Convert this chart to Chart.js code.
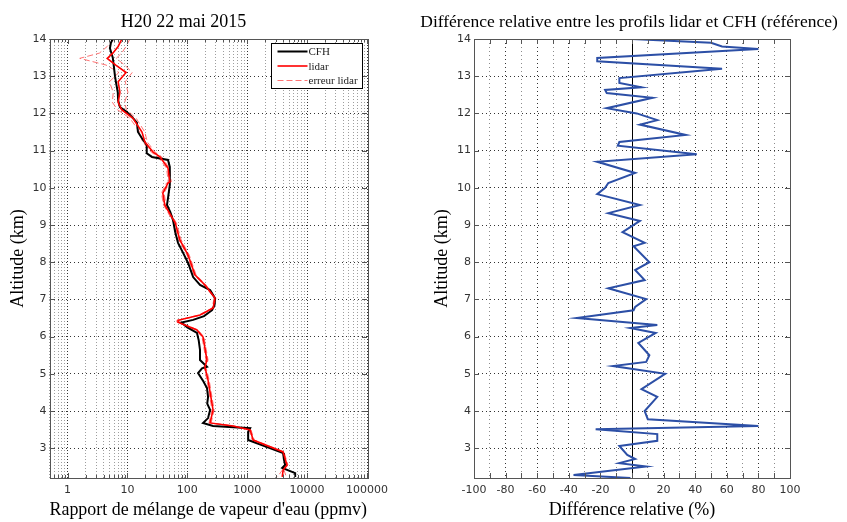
<!DOCTYPE html>
<html>
<head>
<meta charset="utf-8">
<script src="https://cdn.jsdelivr.net/npm/chart.js@4.4.1/dist/chart.umd.min.js"></script>
<style>
  html, body { margin: 0; padding: 0; background: #fff; }
  #wrap { position: relative; width: 847px; height: 522px; overflow: hidden; }
  .box { position: absolute; top: 0; height: 522px; }
</style>
</head>
<body>
<div id="wrap">
  <div class="box" style="left:0;width:420px"><canvas id="profil" width="420" height="522"></canvas></div>
  <div class="box" style="left:400px;width:447px"><canvas id="diff" width="447" height="522"></canvas></div>
</div>
<script>
// ---- data ----
const altTicks = [3, 4, 5, 6, 7, 8, 9, 10, 11, 12, 13, 14];
const decades = [1, 10, 100, 1000, 10000, 100000];
const decadeLabels = ["1", "10", "100", "1000", "10000", "100000"];
const diffTicks = [-100, -90, -80, -70, -60, -50, -40, -30, -20, -10, 0, 10, 20, 30, 40, 50, 60, 70, 80, 90, 100];
const diffTickLabels = ["-100", "", "-80", "", "-60", "", "-40", "", "-20", "", "0", "", "20", "", "40", "", "60", "", "80", "", "100"];

// CFH (km, ppmv)
const cfhAlt = [14.0, 13.9, 13.75, 13.5, 13.3, 13.0, 12.8, 12.57, 12.35, 12.17, 12.04, 11.9, 11.75, 11.5, 11.3, 11.15, 10.93, 10.83, 10.75, 10.56, 10.3, 10.08, 9.72, 9.54, 9.35, 9.13, 8.8, 8.52, 8.25, 7.98, 7.6, 7.39, 7.25, 7.03, 6.85, 6.71, 6.55, 6.45, 6.38, 6.25, 6.1, 5.9, 5.64, 5.37, 5.19, 5.15, 5.02, 4.8, 4.62, 4.38, 4.2, 4.03, 3.81, 3.68, 3.6, 3.54, 3.44, 3.22, 3.03, 2.87, 2.7, 2.55, 2.47, 2.33, 2.23];
const cfhVal = [5.7, 5.3, 5.1, 5.7, 5.9, 6.2, 6.5, 6.9, 7.0, 7.5, 9.8, 12, 14.4, 15.0, 18, 21, 21, 25.7, 47.6, 51, 51, 51, 47.6, 45.8, 52, 57.7, 63, 70, 85, 103, 125, 163, 240, 290, 285, 259, 190, 125, 80, 100, 145, 155, 163, 163, 213, 176, 151, 185, 213, 222, 215, 240, 222, 183, 269, 1120, 1037, 1037, 2150, 3980, 4100, 4300, 3840, 6320, 6320];

// lidar (km, ppmv) with lower / upper error bounds
const lidarAlt = [14.0, 13.8, 13.62, 13.48, 13.3, 13.1, 12.85, 12.57, 12.3, 12.1, 11.87, 11.5, 11.23, 10.96, 10.83, 10.53, 10.16, 10.13, 9.86, 9.54, 9.05, 8.6, 8.19, 7.66, 7.39, 7.04, 6.77, 6.58, 6.44, 6.39, 6.18, 5.99, 5.37, 5.18, 4.83, 4.03, 3.68, 3.6, 3.49, 3.22, 2.9, 2.55, 2.41, 2.23];
const lidarVal = [8.1, 7.0, 5.7, 4.6, 6.4, 9.5, 7.0, 7.5, 7.0, 8.0, 12.4, 17.5, 19.6, 26.8, 35, 47.6, 51, 47.6, 39, 42, 63, 75, 103, 134, 197, 290, 270, 163, 70, 70, 145, 183, 213, 197, 222, 269, 240, 580, 1120, 1260, 3980, 4620, 3980, 3840];
const lidarLow = [6.0, 4.6, 3.4, 1.6, 4.4, 7.2, 5.0, 5.8, 5.6, 6.8, 11, 16, 18, 25, 32.5, 45, 48, 45, 37, 40, 60, 72, 99, 129, 190, 280, 260, 157, 67, 67, 140, 176, 205, 190, 213, 258, 230, 560, 1080, 1210, 3850, 4470, 3850, 3200];
const lidarHigh = [11, 9.5, 8.0, 6.5, 9.0, 12, 9.2, 10.2, 9.0, 9.6, 14, 19.5, 21.5, 29, 37.5, 50, 54, 50, 41, 44, 66, 79, 108, 140, 205, 300, 280, 170, 73, 73, 151, 190, 222, 205, 232, 280, 250, 600, 1160, 1310, 4120, 4780, 4120, 4500];

// relative difference lidar vs CFH (km, %)
const diffAlt = [14.0, 13.9, 13.8, 13.73, 13.49, 13.4, 13.2, 12.95, 12.82, 12.7, 12.63, 12.55, 12.42, 12.14, 12.0, 11.82, 11.7, 11.42, 11.23, 11.13, 10.9, 10.7, 10.4, 10.13, 10.0, 9.83, 9.54, 9.32, 9.11, 8.81, 8.52, 8.43, 8.0, 7.79, 7.52, 7.3, 7.01, 6.8, 6.71, 6.5, 6.31, 6.23, 6.1, 5.83, 5.5, 5.32, 5.21, 5.0, 4.59, 4.38, 4.0, 3.78, 3.6, 3.51, 3.38, 3.2, 3.06, 2.82, 2.71, 2.6, 2.51, 2.28, 2.2];
const diffVal = [0, 50, 57, 80, -22, -22, 57, -8, -8, 6, -17, -16, 13, -16, 3, 16, 5, 34, -8, -9, 41, -22, 2, -15, -17, -22, 5, -15, 5, -6, 8, 1, 11, 2, 8, -15, 9, 2, 1, -35, 16, -1, 15, 4, 11, 9, -12, 21, 6, 16, 8, 10, 80, -23, 16, 16, -8, -3, 2, -8, 9, -37, -1];

const serif = "'Liberation Serif', serif";
const sans = "'DejaVu Sans', sans-serif";

const pts = (ys, xs) => ys.map((y, i) => ({ x: xs[i], y }));

// minor grid positions of the log axis (1..9 in every decade)
const logGrid = [];
[0.1].concat(decades).forEach((d) => {
  for (let m = 1; m <= 9; m++) {
    const v = +(m * d).toPrecision(3);
    if (v >= 0.5 && v <= 100000) logGrid.push(v);
  }
});
const isDecade = (v) => decades.indexOf(v) !== -1;

// box around the plot with small inner ticks
const frame = {
  id: "frame",
  afterDatasetsDraw(chart) {
    const { ctx, chartArea: a, scales } = chart;
    ctx.save();
    ctx.strokeStyle = "#555";
    ctx.lineWidth = 1;
    ctx.beginPath();
    scales.x.ticks.forEach((t) => {
      const px = Math.round(scales.x.getPixelForValue(t.value)) + 0.5;
      const len = t.minor ? 3 : 5;
      ctx.moveTo(px, a.bottom); ctx.lineTo(px, a.bottom - len);
      ctx.moveTo(px, a.top); ctx.lineTo(px, a.top + len);
    });
    scales.y.ticks.forEach((t) => {
      const py = Math.round(scales.y.getPixelForValue(t.value)) + 0.5;
      ctx.moveTo(a.left, py); ctx.lineTo(a.left + 5, py);
      ctx.moveTo(a.right, py); ctx.lineTo(a.right - 5, py);
    });
    ctx.stroke();
    ctx.strokeRect(Math.round(a.left) + 0.5, Math.round(a.top) + 0.5,
      Math.round(a.right - a.left), Math.round(a.bottom - a.top));
    ctx.restore();
  },
};

// legend drawn inside the plot, top right
const boxLegend = {
  id: "boxLegend",
  afterDraw(chart) {
    const { ctx, chartArea: a } = chart;
    const items = chart.data.datasets.filter((d) => d.label);
    const w = 91, h = 45;
    const x0 = Math.round(a.right - 5 - w) + 0.5, y0 = Math.round(a.top + 4) + 0.5;
    ctx.save();
    ctx.fillStyle = "#fff";
    ctx.fillRect(x0, y0, w, h);
    ctx.strokeStyle = "#000";
    ctx.lineWidth = 1;
    ctx.strokeRect(x0, y0, w, h);
    ctx.font = "11px " + serif;
    ctx.textBaseline = "middle";
    items.forEach((d, i) => {
      const y = y0 + 8 + i * 14.5;
      ctx.beginPath();
      ctx.strokeStyle = d.borderColor;
      ctx.lineWidth = d.borderWidth;
      ctx.setLineDash(d.borderDash || []);
      ctx.moveTo(x0 + 6, y);
      ctx.lineTo(x0 + 36, y);
      ctx.stroke();
      ctx.setLineDash([]);
      ctx.fillStyle = "#222";
      ctx.fillText(d.label, x0 + 37, y + 1);
    });
    ctx.restore();
  },
};

// long title of the right panel, drawn without the width squeeze of the title box
const wideTitle = {
  id: "wideTitle",
  afterDraw(chart, args, opts) {
    const { ctx } = chart;
    ctx.save();
    ctx.font = opts.size + "px " + serif;
    ctx.fillStyle = "#000";
    ctx.textAlign = "center";
    ctx.textBaseline = "middle";
    ctx.fillText(opts.text, opts.x, opts.y);
    ctx.restore();
  },
};

const tickFont = { family: sans, size: 11 };
const titleFont = { family: serif, size: 18, weight: "normal" };
const majorGrid = "rgba(0,0,0,0.8)";
const minorGrid = "rgba(0,0,0,0.38)";

const yScale = (width, titlePad) => ({
  type: "linear",
  min: 2.2,
  max: 14,
  afterBuildTicks: (s) => { s.ticks = altTicks.map((v) => ({ value: v })); },
  afterFit: (s) => { s.width = width; },
  ticks: { font: tickFont, color: "#333", padding: 3, callback: (v) => String(v) },
  grid: { color: majorGrid, drawTicks: false },
  border: { display: false, dash: [1, 3] },
  title: { display: true, text: "Altitude (km)", font: titleFont, color: "#000", padding: { top: titlePad, bottom: 0 } },
});

new Chart(document.getElementById("profil"), {
  type: "scatter",
  data: {
    datasets: [
      { label: "CFH", data: pts(cfhAlt, cfhVal), borderColor: "#000", borderWidth: 2, order: 1 },
      { label: "lidar", data: pts(lidarAlt, lidarVal), borderColor: "#ff0000", borderWidth: 1.6, order: 0 },
      { label: "erreur lidar", data: pts(lidarAlt, lidarLow), borderColor: "rgba(255,90,90,0.85)", borderWidth: 1, borderDash: [6, 3], order: 2 },
      { label: "", data: pts(lidarAlt, lidarHigh), borderColor: "rgba(255,90,90,0.85)", borderWidth: 1, borderDash: [6, 3], order: 2 },
    ].map((d) => Object.assign(d, { showLine: true, pointRadius: 0, tension: 0, fill: false })),
  },
  options: {
    responsive: false,
    animation: false,
    layout: { padding: { left: 0, right: 53, top: 0, bottom: 0 } },
    plugins: {
      legend: { display: false },
      tooltip: { enabled: false },
      title: { display: true, text: "H20 22 mai 2015", font: titleFont, color: "#000", padding: { top: 11, bottom: 6.4 } },
    },
    scales: {
      x: {
        type: "logarithmic",
        min: 0.5,
        max: 100000,
        afterBuildTicks: (s) => { s.ticks = logGrid.map((v) => ({ value: v, minor: !isDecade(v) })); },
        afterFit: (s) => { s.height = 44; },
        ticks: {
          autoSkip: false, maxRotation: 0, minRotation: 0, padding: 6, font: tickFont, color: "#333",
          callback: (v) => (isDecade(v) ? decadeLabels[decades.indexOf(v)] : ""),
        },
        grid: { color: (c) => (c.tick && isDecade(c.tick.value) ? majorGrid : minorGrid), drawTicks: false },
        border: { display: false, dash: [1, 2] },
        title: { display: true, text: "Rapport de mélange de vapeur d'eau (ppmv)", font: titleFont, color: "#000", padding: { top: 0, bottom: 1 } },
      },
      y: yScale(49.5, 7),
    },
  },
  plugins: [frame, boxLegend],
});

new Chart(document.getElementById("diff"), {
  type: "scatter",
  data: {
    datasets: [
      { label: "", data: pts(diffAlt, diffVal), borderColor: "#2c4fa6", borderWidth: 2, showLine: true, pointRadius: 0, tension: 0 },
    ],
  },
  options: {
    responsive: false,
    animation: false,
    layout: { padding: { left: 13, right: 57, top: 39, bottom: 0 } },
    plugins: {
      legend: { display: false },
      tooltip: { enabled: false },
      title: { display: false },
      wideTitle: { text: "Différence relative entre les profils lidar et CFH (référence)", x: 229, y: 22, size: 17.5 },
    },
    scales: {
      x: {
        type: "linear",
        min: -100,
        max: 100,
        afterBuildTicks: (s) => { s.ticks = diffTicks.map((v) => ({ value: v })); },
        afterFit: (s) => { s.height = 44; },
        ticks: {
          autoSkip: false, maxRotation: 0, minRotation: 0, padding: 6, font: tickFont, color: "#333",
          callback: (v, i) => diffTickLabels[i],
        },
        grid: {
          color: (c) => (c.tick && c.tick.value === 0 ? "#000" : (c.tick && c.tick.value % 20 === 0 ? majorGrid : "rgba(0,0,0,0.45)")),
          drawTicks: false,
        },
        border: { display: false, dash: (c) => (c.tick && c.tick.value === 0 ? [] : [1, 3]) },
        title: { display: true, text: "Différence relative (%)", font: titleFont, color: "#000", padding: { top: 0, bottom: 1 } },
      },
      y: yScale(61, 18),
    },
  },
  plugins: [frame, wideTitle],
});
</script>
</body>
</html>
